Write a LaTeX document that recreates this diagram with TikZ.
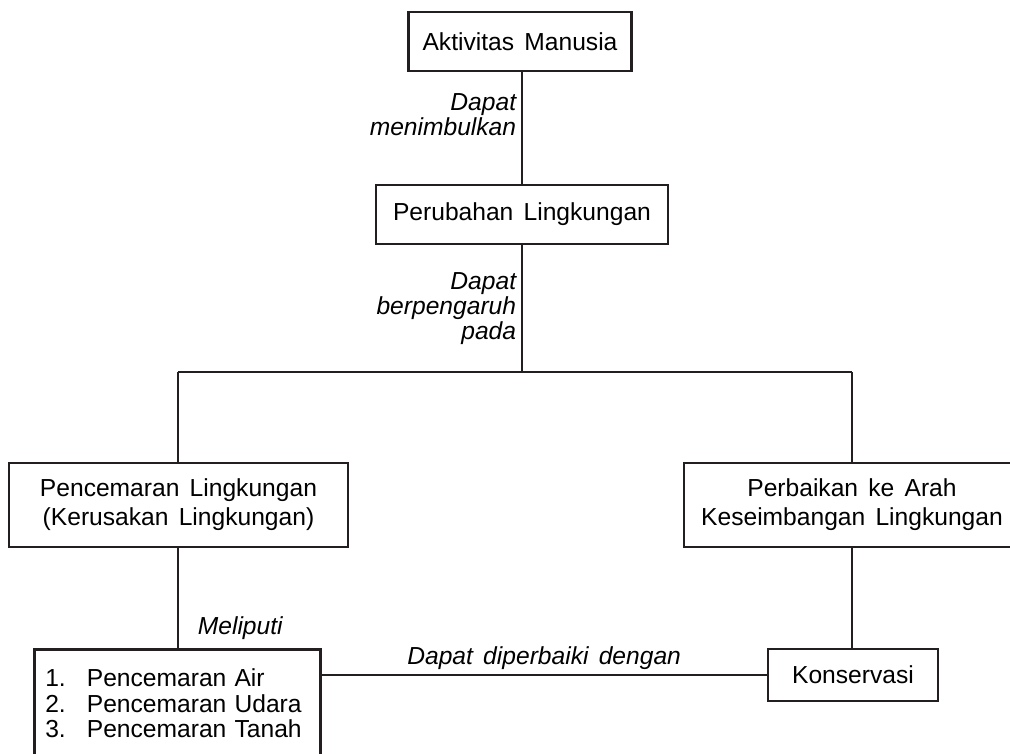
\documentclass[tikz,border=0pt]{standalone}
\usepackage{fontspec}
\setmainfont{Liberation Sans}[WordSpace=1.5]
\usetikzlibrary{positioning}
\definecolor{ink}{RGB}{35,31,32}
\tikzset{
  box/.style={draw=ink,line width=1.8pt,fill=white,align=center,inner sep=0pt,
    font=\fontsize{17.5}{20.5}\selectfont},
  lbl/.style={font=\fontsize{17.5}{18}\selectfont\itshape,text=black},
  link/.style={draw=ink,line width=1.7pt},
}

\begin{document}
\begin{tikzpicture}[x=0.025cm,y=-0.025cm]
  \useasboundingbox (0,0) rectangle (1010,754);
  \clip (0,0) rectangle (1010,754);
  % boxes
  \node[box,minimum width=5.575cm,minimum height=1.475cm] (akt) at (520,41.5) {Aktivitas Manusia};
  \node[box,minimum width=7.3cm,minimum height=1.475cm] (per) at (522,214.5) {Perubahan Lingkungan};
  \coordinate (jn) at (522,372);
  \coordinate (jl) at (178,372);
  \coordinate (jr) at (852,372);
  \node[box,minimum width=8.475cm,minimum height=2.1cm] (pl) at (178.5,505)
    {Pencemaran Lingkungan\\(Kerusakan Lingkungan)};
  \node[box,minimum width=8.4cm,minimum height=2.1cm] (pk) at (852,505)
    {Perbaikan ke Arah\\Keseimbangan Lingkungan};
  \node[box,anchor=north west,align=left,inner xsep=0.275cm,inner ysep=14pt,
    text width=6.6cm,font=\fontsize{17.5}{18}\selectfont] (jen) at (33,648)
    {\begin{tabular}[t]{@{}l@{\hspace{15pt}}l@{}}
      1. & Pencemaran Air\\
      2. & Pencemaran Udara\\
      3. & Pencemaran Tanah
    \end{tabular}};
  \node[box,minimum width=4.25cm,minimum height=1.3cm] (kon) at (853,675) {Konservasi};
  % connectors
  \draw[link] (akt.south -| per) -- node[lbl,left,pos=0.38,align=right] (t1) {Dapat\\menimbulkan} (per);
  \draw[link] (per) -- node[lbl,left,align=right] (t2) {Dapat\\berpengaruh\\pada} (jn);
  \draw[link] (jl) -- (jr);
  \draw[link] (jl) -- (jl |- pl.north);
  \draw[link] (jr) -- (jr |- pk.north);
  \draw[link] (pl.south -| jl) -- node[lbl,pos=0.8,anchor=west,xshift=0.35cm] (t3) {Meliputi} (jl |- jen.north);
  \draw[link] (pk.south -| jr) -- (jr |- kon.north);
  \draw[link] (kon) -- node[lbl,above] (t4) {Dapat diperbaiki dengan} (kon -| jen.east);
\end{tikzpicture}
\end{document}
